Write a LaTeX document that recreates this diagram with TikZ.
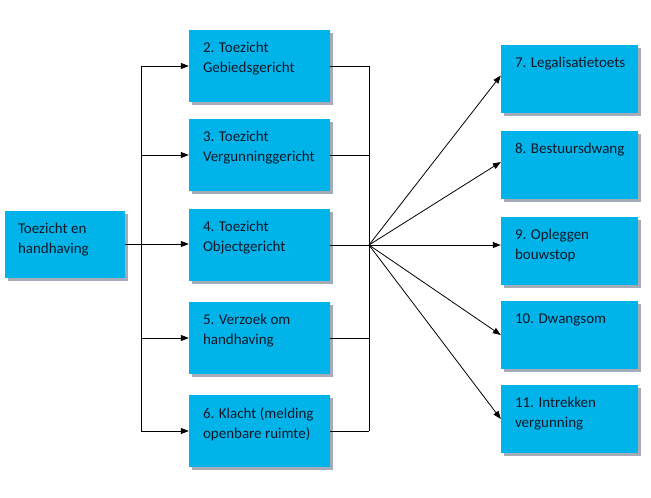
\documentclass[tikz,border=0pt]{standalone}
\usepackage{fontspec}
\setmainfont{Carlito}
\usetikzlibrary{arrows.meta,shadows}
\definecolor{boxblue}{HTML}{00B4EA}
\definecolor{shadowgray}{HTML}{A6ABB8}
\definecolor{textdark}{HTML}{101828}

\begin{document}
\begin{tikzpicture}[
        x=1pt,y=-1pt,
        box/.style={fill=boxblue,inner sep=0pt,minimum width=141pt,minimum height=72pt,
            drop shadow={shadow xshift=3pt,shadow yshift=-3pt,fill=shadowgray,opacity=1}},
        smallbox/.style={box,minimum width=137pt,minimum height=68pt},
        boxtext/.style={anchor=north west,align=left,inner xsep=14pt,inner ysep=12.5pt,
            font=\fontsize{15}{20}\selectfont,text=textdark},
        line/.style={line width=0.8pt,black},
        arrow/.style={line,-{Triangle[length=8pt,width=6pt]}}
    ]
        \useasboundingbox (0,0) rectangle (651,498);

        % Define the nodes
        \node[box,minimum width=120pt,minimum height=67pt,
            label={[boxtext,inner xsep=13pt]north west:{Toezicht en\\handhaving}}] (b1) at (65,244) {};
        \node[box,label={[boxtext]north west:{2. Toezicht\\Gebiedsgericht}}] (b2) at (259.5,66) {};
        \node[box,label={[boxtext]north west:{3. Toezicht\\Vergunninggericht}}] (b3) at (259.5,155) {};
        \node[box,label={[boxtext]north west:{4. Toezicht\\Objectgericht}}] (b4) at (259.5,245) {};
        \node[box,label={[boxtext]north west:{5. Verzoek om\\handhaving}}] (b5) at (259.5,338) {};
        \node[box,label={[boxtext]north west:{6. Klacht (melding\\openbare ruimte)}}] (b6) at (259.5,431) {};
        \node[smallbox,label={[boxtext]north west:{7. Legalisatietoets}}] (b7) at (569.5,78.5) {};
        \node[smallbox,label={[boxtext]north west:{8. Bestuursdwang}}] (b8) at (569.5,165) {};
        \node[smallbox,label={[boxtext]north west:{9. Opleggen\\bouwstop}}] (b9) at (569.5,250.5) {};
        \node[smallbox,label={[boxtext]north west:{10. Dwangsom}}] (b10) at (569.5,335) {};
        \node[smallbox,label={[boxtext]north west:{11. Intrekken\\vergunning}}] (b11) at (569.5,419) {};

        % Define the junctions
        \coordinate (trunk) at (141,244);
        \coordinate (hub) at (369,245);

        % Draw the left tree
        \draw[line] (trunk |- b2.west) -- (trunk |- b6.west);
        \draw[arrow] (b1.east) -- (b1.east -| b4.west);
        \foreach \n in {2,3,5,6}
            \draw[arrow] (trunk |- b\n.west) -- (b\n.west);

        % Draw the right bus
        \draw[line] (hub |- b2.east) -- (hub |- b6.east);
        \foreach \n in {2,...,6}
            \draw[line] (b\n.east) -- (hub |- b\n.east);

        % Draw the fan of arrows
        \draw[arrow] (hub) -- ([yshift=3pt]b7.west);
        \draw[arrow] (hub) -- ([yshift=3pt]b8.west);
        \draw[arrow] (hub) -- (b9.west |- hub);
        \draw[arrow] (hub) -- (b10.west);
        \draw[arrow] (hub) -- (b11.west);
    \end{tikzpicture}
\end{document}
